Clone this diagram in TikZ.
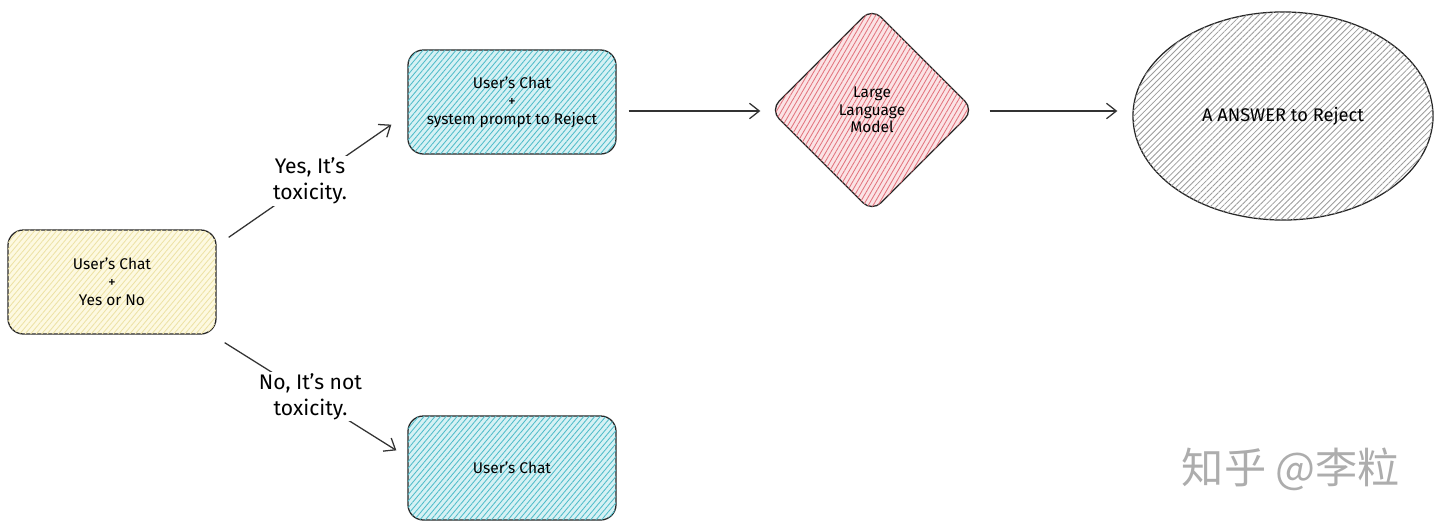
\documentclass[tikz,border=0pt]{standalone}
\usepackage{fontspec}
\setmainfont{Fira Sans}
\newfontfamily\cjk{Noto Sans CJK SC}
\usetikzlibrary{shapes.geometric, arrows.meta, positioning, calc, patterns.meta}
\usepackage[svgnames,table]{xcolor}

\definecolor{yellowfill}{HTML}{FDF9E1}
\definecolor{yellowhatch}{HTML}{EDE2A6}
\definecolor{cyanfill}{HTML}{D6F1F4}
\definecolor{cyanhatch}{HTML}{4FBCC9}
\definecolor{pinkfill}{HTML}{FBE3E5}
\definecolor{pinkhatch}{HTML}{E2737D}
\definecolor{grayhatch}{HTML}{9C9C9C}

\tikzset{
  chatbox/.style={draw=black!85, line width=0.9pt, rounded corners=11pt,
    minimum width=5.2cm, minimum height=2.6cm, align=center,
    font=\fontsize{11}{12.8}\selectfont},
  hatch/.style n args={3}{preaction={fill=#1},
    postaction={pattern={Lines[angle=#3,distance=3pt,line width=0.6pt]}, pattern color=#2}},
  edgelbl/.style={fill=white, inner sep=1pt, align=center,
    font=\fontsize{15}{18.5}\selectfont},
  flow/.style={draw=black!80, line width=0.9pt, -{Straight Barb[length=7pt,width=11pt]}}
}

\begin{document}
\begin{tikzpicture}[x=0.025cm, y=-0.025cm]
                \useasboundingbox (0,0) rectangle (1440,528);

                % Boxes
                \node[chatbox, hatch={yellowfill}{yellowhatch}{50}] (ask) at (112, 282) {User's Chat\\+\\Yes or No};
                \node[chatbox, hatch={cyanfill}{cyanhatch}{50}] (reject) at (512, 102) {User's Chat\\+\\system prompt to Reject};
                \node[chatbox, hatch={cyanfill}{cyanhatch}{50}] (plain) at (512, 468) {User's Chat};

                % Model and answer
                \node[diamond, draw=black!85, line width=0.9pt, rounded corners=9pt, minimum width=5.1cm, minimum height=5.1cm,
                      align=center, font=\fontsize{11}{12.5}\selectfont, hatch={pinkfill}{pinkhatch}{60}] (llm) at (872, 110) {Large\\Language\\Model};
                \node[ellipse, draw=black!85, line width=0.9pt, minimum width=7.5cm, minimum height=5.2cm,
                      font=\fontsize{13}{15}\selectfont, hatch={white}{grayhatch}{45}] (answer) at (1283, 116) {A ANSWER to Reject};

                % Connectors
                \draw[flow] ([shift={(12,8)}]ask.north east) -- node[edgelbl] (yeslbl) {Yes, It's\\toxicity.} ([shift={(-16,-30)}]reject.south west);
                \draw[flow] ([shift={(8,8)}]ask.south east) -- node[edgelbl] (nolbl) {No, It's not\\toxicity.} ([shift={(-11,35)}]plain.north west);
                \draw[flow] ([shift={(12,9)}]reject.east) -- ([shift={(-9,1)}]llm.west);
                \draw[flow] ([shift={(15,1)}]llm.east) -- ([shift={(-15,-5)}]answer.west);

                % Watermark
                \node[text=black!32, font=\cjk\fontsize{30}{34}\selectfont] (mark) at (1291, 469) {知乎 @李粒};
            \end{tikzpicture}
\end{document}
